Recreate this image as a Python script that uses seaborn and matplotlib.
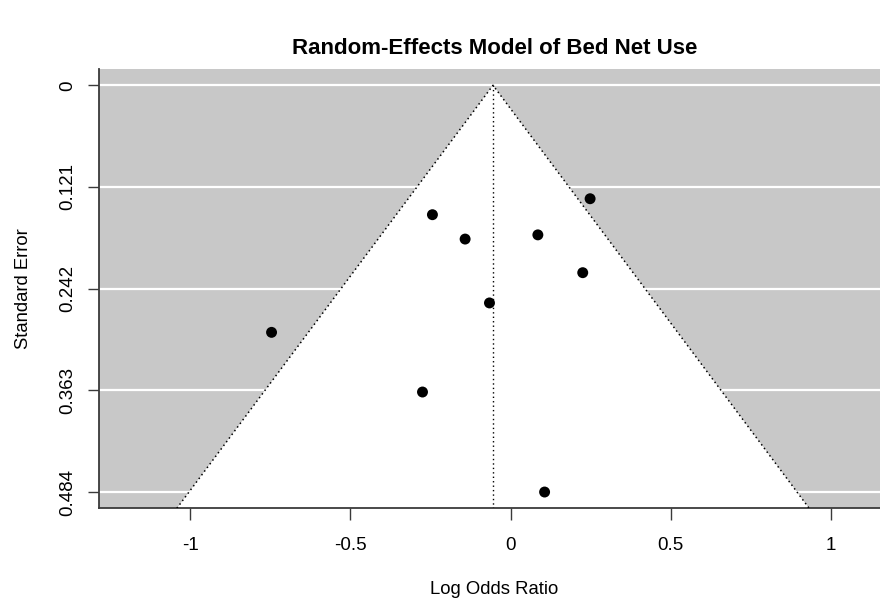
import numpy as np
import pandas as pd
import matplotlib
matplotlib.use("Agg")
import matplotlib.pyplot as plt
import seaborn as sns

# study estimates
log_odds = [0.248, -0.244, -0.142, 0.085, 0.225, -0.066, -0.746, -0.275, 0.106]
std_err = [0.135, 0.154, 0.183, 0.178, 0.223, 0.259, 0.294, 0.365, 0.484]

# pooled random-effects estimate (apex of the funnel)
pooled = -0.055

se_ticks = [0, 0.121, 0.242, 0.363, 0.484]
se_labels = ["0", "0.121", "0.242", "0.363", "0.484"]
x_ticks = [-1, -0.5, 0, 0.5, 1]
x_labels = ["-1", "-0.5", "0", "0.5", "1"]

df = pd.DataFrame({"yi": log_odds, "sei": std_err})

sns.set_style("white")
plt.rcParams["font.family"] = ["Liberation Sans", "DejaVu Sans"]
plt.rcParams["text.color"] = "black"
plt.rcParams["axes.labelcolor"] = "black"
plt.rcParams["xtick.labelcolor"] = "black"
plt.rcParams["ytick.labelcolor"] = "black"

fig = plt.figure(figsize=(8.8, 6), dpi=100)
ax = fig.add_axes([99 / 880, 1 - 508.3 / 600, 788 / 880, 439.3 / 600])

# axis ranges like R: 10% extra around the funnel, then 4% padding
half = 1.96 * max(se_ticks)
xr = 2 * half * 1.2
x_lo = pooled - half * 1.2 - 0.04 * xr
x_hi = pooled + half * 1.2 + 0.04 * xr
y_top = -0.04 * max(se_ticks)
y_bot = max(se_ticks) * 1.04

ax.set_facecolor("#c8c8c8")
for s in se_ticks:
    ax.axhline(s, color="white", lw=1.6, zorder=1)

# pseudo confidence region
se_edge = np.array([y_bot, 0, y_bot])
x_edge = pooled + np.array([-1.96, 0, 1.96]) * se_edge
ax.fill(x_edge, se_edge, color="white", zorder=2, lw=0)
ax.plot(x_edge, se_edge, color="black", lw=1.1, ls=(0, (1, 2)), zorder=3)
ax.plot([pooled, pooled], [0, y_bot], color="black", lw=1, ls=(0, (1, 2.2)), zorder=3)

sns.scatterplot(data=df, x="yi", y="sei", ax=ax, color="black", s=62,
                edgecolor="none", zorder=4)

ax.set_xlim(x_lo, x_hi)
ax.set_ylim(y_bot, y_top)
ax.set_xticks(x_ticks)
ax.set_xticklabels(x_labels)
ax.set_yticks(se_ticks)
ax.set_yticklabels(se_labels, rotation=90, va="center")

for side in ["top", "right"]:
    ax.spines[side].set_visible(False)
for side in ["left", "bottom"]:
    ax.spines[side].set_color("#3a3a3a")
    ax.spines[side].set_linewidth(1.3)

ax.tick_params(axis="x", length=8.6, width=1, color="#3a3a3a", labelsize=13.5,
               pad=12, direction="out", bottom=True)
ax.tick_params(axis="y", length=8, width=1, color="#3a3a3a", labelsize=13.5,
               pad=8.5, direction="out", left=True)

ax.set_xlabel("Log Odds Ratio", fontsize=13.3)
ax.set_ylabel("Standard Error", fontsize=13.3)
ax.xaxis.set_label_coords(0.501, -0.165)
ax.yaxis.set_label_coords(-0.085, 0.5)

fig.text(495 / 880, 1 - 48 / 600, "Random-Effects Model of Bed Net Use",
         ha="center", va="center", fontsize=16, fontweight="bold")

fig.savefig("out.png", dpi=100)
